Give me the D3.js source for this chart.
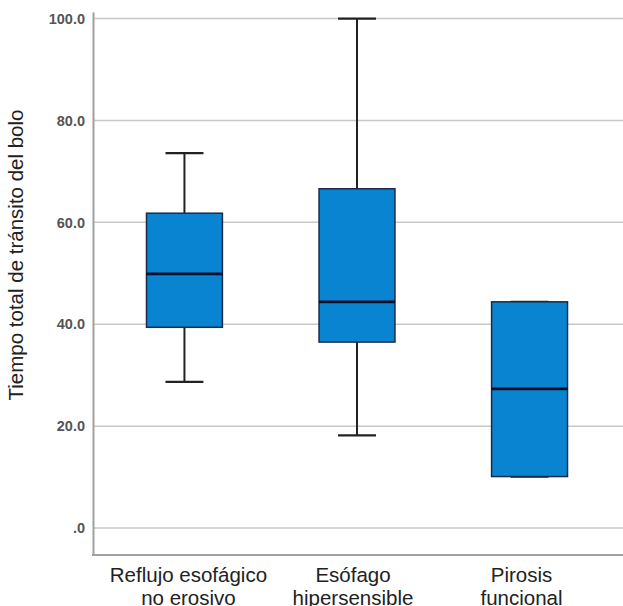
<!DOCTYPE html>
<html><head><meta charset="utf-8">
<script src="https://cdn.jsdelivr.net/npm/d3@7"></script>
<style>body{margin:0;background:#fff}svg{display:block}text{font-family:"Liberation Sans",Arial,sans-serif}</style>
</head><body>
<svg id="c" width="623" height="606"></svg>
<script>
const categories = [["Reflujo esofágico","no erosivo"],["Esófago","hipersensible"],["Pirosis","funcional"]];
const whiskerLow = [28.7, 18.2, 10.1];
const q1 = [39.4, 36.5, 10.1];
const median = [49.9, 44.4, 27.3];
const q3 = [61.8, 66.6, 44.4];
const whiskerHigh = [73.6, 100.0, 44.4];
const yTicks = [0, 20, 40, 60, 80, 100];
const yTickLabels = [".0", "20.0", "40.0", "60.0", "80.0", "100.0"];
const yTitle = "Tiempo total de tránsito del bolo";

const svg = d3.select("#c");
const m = {l:93, r:623, t:12, b:555};
const x = d3.scaleBand().domain(d3.range(3)).range([m.l, m.r-2]).paddingInner(0.56).paddingOuter(0.31);
const y = d3.scaleLinear().domain([-5.3, 101.3]).range([m.b, m.t]);

// gridlines
svg.append("g").selectAll("line").data(yTicks).join("line")
  .attr("x1", m.l).attr("x2", 623).attr("y1", d=>y(d)).attr("y2", d=>y(d))
  .attr("stroke", "#c8c8c8").attr("stroke-width", 1.5);

// axes
const yAxis = d3.axisLeft(y).tickValues(yTicks).tickFormat((d,i)=>yTickLabels[i]).tickSize(0).tickPadding(8);
const gy = svg.append("g").attr("transform", `translate(${m.l},0)`).call(yAxis);
gy.select(".domain").attr("stroke", "#a0a0a0").attr("stroke-width", 2);
gy.selectAll("text").attr("font-size", 14.5).attr("font-weight", "bold").attr("fill", "#555").attr("font-family", "Liberation Sans, Arial, sans-serif");
svg.append("line").attr("x1", m.l-1).attr("x2", 623).attr("y1", m.b).attr("y2", m.b)
  .attr("stroke", "#a0a0a0").attr("stroke-width", 2);

// y title
svg.append("text").attr("transform", `translate(23,255) rotate(-90)`)
  .attr("text-anchor", "middle").attr("font-size", 20.5).attr("fill", "#222").text(yTitle);

// x labels
const xl = svg.append("g").selectAll("text").data(categories).join("text")
  .attr("x", (d,i)=>x(i)+x.bandwidth()/2 + [4,-4,-8][i]).attr("y", 582)
  .attr("text-anchor", "middle").attr("font-size", 20.5).attr("fill", "#222");
xl.selectAll("tspan").data(d=>d).join("tspan")
  .attr("x", function(){return this.parentNode.getAttribute("x");})
  .attr("dy", (d,i)=>i===0?0:23).text(d=>d);

// boxes
const g = svg.append("g");
const bw = x.bandwidth();
const cap = bw*0.5;
d3.range(3).forEach(i=>{
  const cx = x(i)+bw/2;
  g.append("line").attr("x1", cx).attr("x2", cx).attr("y1", y(whiskerHigh[i])).attr("y2", y(q3[i])).attr("stroke", "#222").attr("stroke-width", 2);
  g.append("line").attr("x1", cx).attr("x2", cx).attr("y1", y(whiskerLow[i])).attr("y2", y(q1[i])).attr("stroke", "#222").attr("stroke-width", 2);
  [whiskerHigh[i], whiskerLow[i]].forEach(v=>{
    g.append("line").attr("x1", cx-cap/2).attr("x2", cx+cap/2).attr("y1", y(v)).attr("y2", y(v)).attr("stroke", "#222").attr("stroke-width", 2.2);
  });
  g.append("rect").attr("x", x(i)).attr("width", bw).attr("y", y(q3[i])).attr("height", y(q1[i])-y(q3[i]))
    .attr("fill", "#0984d0").attr("stroke", "#1c2a4a").attr("stroke-width", 1.5);
  g.append("line").attr("x1", x(i)).attr("x2", x(i)+bw).attr("y1", y(median[i])).attr("y2", y(median[i]))
    .attr("stroke", "#0d0d2a").attr("stroke-width", 2.8);
});
</script>
</body></html>
